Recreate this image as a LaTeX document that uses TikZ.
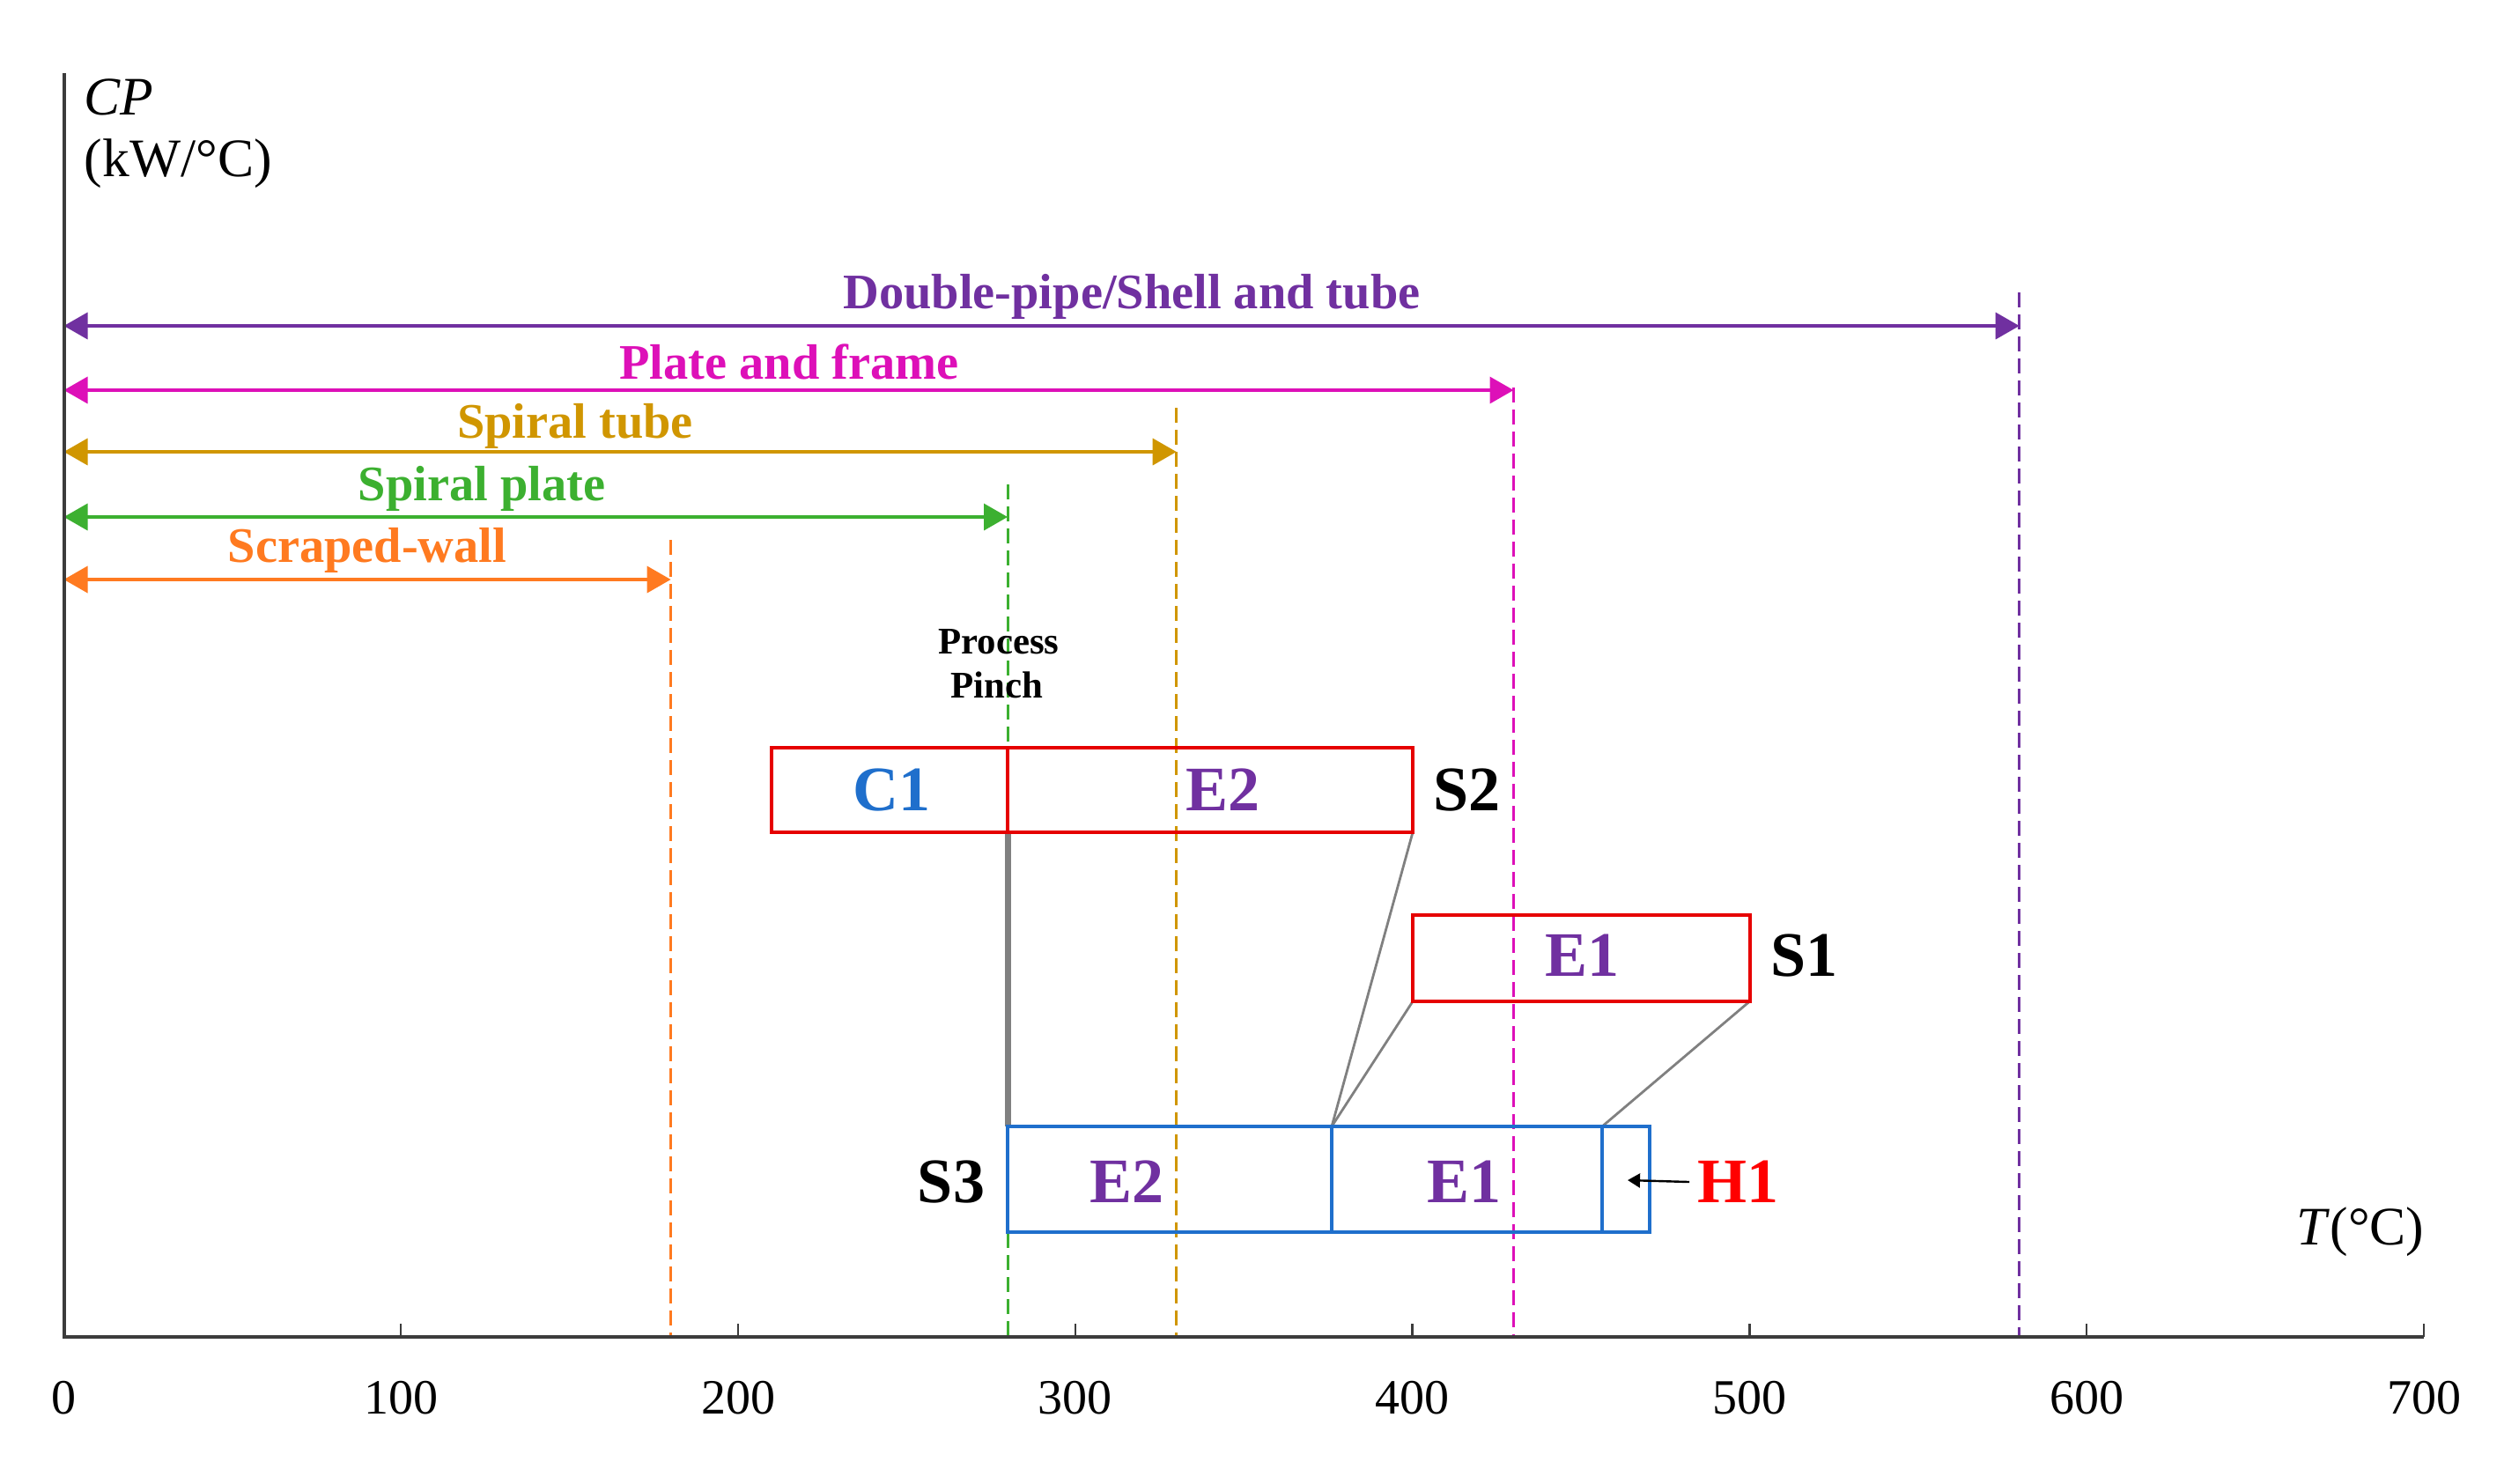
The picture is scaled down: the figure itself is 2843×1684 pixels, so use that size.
\documentclass[tikz,border=0pt]{standalone}
\usepackage{fontspec}
\setmainfont{Liberation Serif}
\usetikzlibrary{arrows.meta}
\definecolor{cpurple}{RGB}{112,48,160}
\definecolor{cmag}{RGB}{221,16,184}
\definecolor{cgold}{RGB}{208,150,0}
\definecolor{cgreen}{RGB}{60,176,48}
\definecolor{corange}{RGB}{255,122,32}
\definecolor{cblue}{RGB}{31,111,204}
\definecolor{cred}{RGB}{230,0,0}
\definecolor{caxis}{RGB}{60,60,60}
\definecolor{cgrey}{RGB}{128,128,128}
\tikzset{
  rnglbl/.style={font=\fontsize{14.1pt}{16pt}\selectfont\bfseries, anchor=base, inner sep=0pt},
  boxlbl/.style={font=\fontsize{18pt}{20pt}\selectfont\bfseries, anchor=base, inner sep=0pt},
  pinchlbl/.style={font=\fontsize{10.7pt}{12pt}\selectfont\bfseries, anchor=base, inner sep=0pt},
  axlbl/.style={font=\fontsize{15.4pt}{17pt}\selectfont, inner sep=0pt},
  ticklbl/.style={font=\fontsize{14pt}{16pt}\selectfont, anchor=base, inner sep=0pt},
  rng/.style={line width=0.9pt, {Triangle[length=6.75pt,width=7.5pt]}-{Triangle[length=6.75pt,width=7.5pt]}},
  vdash/.style={line width=0.75pt, dash pattern=on 4.25pt off 2pt},
  redbox/.style={draw=cred, line width=1pt},
  bluebox/.style={draw=cblue, line width=0.8pt},
  link/.style={draw=cgrey, line width=0.7pt},
  axisline/.style={draw=caxis, line width=1pt},
}
\begin{document}
\begin{tikzpicture}[x=0.25pt,y=-0.25pt]
\useasboundingbox (0,0) rectangle (2843,1684);
% key coordinates
\coordinate (o) at (72.5,1518);
\coordinate (ytop) at (72.5,83);
\coordinate (xend) at (2752,1518);
% range end points
\coordinate (pL) at (72.5,370);  \coordinate (pR) at (2292.7,370);
\coordinate (mL) at (72.5,443);  \coordinate (mR) at (1718.5,443);
\coordinate (gL) at (72.5,513);  \coordinate (gR) at (1335.7,513);
\coordinate (grL) at (72.5,587); \coordinate (grR) at (1144,587);
\coordinate (oL) at (72.5,658);  \coordinate (oR) at (761.6,658);
% dashed limits
\coordinate (pTop) at (2292.7,332);  \coordinate (pBot) at (2292.7,1518);
\coordinate (mTop) at (1718.5,440);  \coordinate (mBot) at (1718.5,1518);
\coordinate (gTop) at (1335.7,463);  \coordinate (gBot) at (1335.7,1518);
\coordinate (grTop) at (1144,550);   \coordinate (grBot) at (1144,1518);
\coordinate (oTop) at (761.6,613);   \coordinate (oBot) at (761.6,1518);
\draw[vdash, draw=cpurple] (pTop) -- (pBot);
\draw[vdash, draw=cmag] (mTop) -- (mBot);
\draw[vdash, draw=cgold] (gTop) -- (gBot);
\draw[vdash, draw=cgreen] (grTop) -- (grBot);
\draw[vdash, draw=corange] (oTop) -- (oBot);
% ranges
\draw[rng, draw=cpurple, fill=cpurple] (pL) -- (pR);
\draw[rng, draw=cmag, fill=cmag] (mL) -- (mR);
\draw[rng, draw=cgold, fill=cgold] (gL) -- (gR);
\draw[rng, draw=cgreen, fill=cgreen] (grL) -- (grR);
\draw[rng, draw=corange, fill=corange] (oL) -- (oR);
\node[rnglbl, text=cpurple] (lp) at (1285,350) {Double-pipe/Shell and tube};
\node[rnglbl, text=cmag] (lm) at (896,430) {Plate and frame};
\node[rnglbl, text=cgold] (lg) at (653,497) {Spiral tube};
\node[rnglbl, text=cgreen] (lgr) at (547,568) {Spiral plate};
\node[rnglbl, text=corange] (lo) at (417,638) {Scraped-wall};
% pinch label
\node[pinchlbl] (pp1) at (1134,742) {Process};
\node[pinchlbl] (pp2) at (1132,792) {Pinch};
% box corners
\coordinate (s2a) at (876,849);  \coordinate (s2b) at (1604,945);
\coordinate (s2t) at (1144,849); \coordinate (s2d) at (1144,945);
\coordinate (s1a) at (1604,1039); \coordinate (s1b) at (1986.5,1137);
\coordinate (s1bl) at (1604,1137);
\coordinate (h1a) at (1144,1279); \coordinate (h1b) at (1873,1399);
\coordinate (h1m1t) at (1512,1279); \coordinate (h1m1b) at (1512,1399);
\coordinate (h1m2t) at (1819,1279); \coordinate (h1m2b) at (1819,1399);
% grey links
\draw[cgrey, line width=1.75pt] (s2d) -- (h1a);
\draw[link] (s2b) -- (h1m1t);
\draw[link] (s1bl) -- (h1m1t);
\draw[link] (s1b) -- (h1m2t);
% boxes
\draw[redbox] (s2a) rectangle (s2b);
\draw[redbox] (s2t) -- (s2d);
\draw[redbox] (s1a) rectangle (s1b);
\draw[bluebox] (h1a) rectangle (h1b);
\draw[bluebox] (h1m1t) -- (h1m1b);
\draw[bluebox] (h1m2t) -- (h1m2b);
% box labels
\node[boxlbl, text=cblue] (c1) at (1012,920) {C1};
\node[boxlbl, text=cpurple] (e2a) at (1388,920) {E2};
\node[boxlbl] (s2) at (1665,920) {S2};
\node[boxlbl, text=cpurple] (e1a) at (1796,1108) {E1};
\node[boxlbl] (s1) at (2048,1108) {S1};
\node[boxlbl] (s3) at (1080,1365) {S3};
\node[boxlbl, text=cpurple] (e2b) at (1279,1365) {E2};
\node[boxlbl, text=cpurple] (e1b) at (1662,1365) {E1};
\node[boxlbl, text=red] (h1) at (1973,1365) {H1};
\coordinate (h1tail) at (1918,1342);
\coordinate (h1tip) at (1848,1340);
\draw[line width=0.6pt, -{Triangle[length=3.5pt,width=4pt]}] (h1tail) -- (h1tip);
% axes
\draw[axisline] (ytop) -- (o) -- (xend);
\foreach \i in {1,...,7} {
  \draw[axisline, line width=0.6pt] ({72.5+382.79*\i},1503) -- ({72.5+382.79*\i},1518);
}
\foreach \i/\t in {0/0,1/100,2/200,3/300,4/400,5/500,6/600,7/700} {
  \node[ticklbl] (tk\i) at ({72.5+382.79*\i},1605) {\t};
}
\node[axlbl, anchor=base west] (cp) at (95,130) {\textit{CP}};
\node[axlbl, anchor=base west] (cpu) at (95,200) {(kW/°C)};
\node[axlbl, anchor=base east] (tl) at (2753,1413) {\textit{T}(°C)};
\end{tikzpicture}
\end{document}
